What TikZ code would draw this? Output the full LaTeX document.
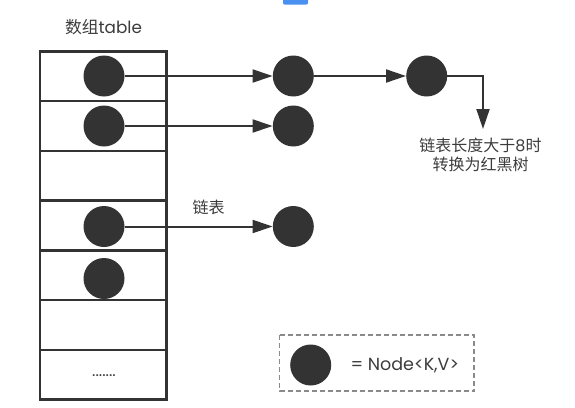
\documentclass[tikz,border=0pt]{standalone}
\usepackage{fontspec}
\setmainfont{Poppins}
\newfontfamily\cjk{Noto Sans CJK SC}
\usetikzlibrary{arrows.meta}
\definecolor{ink}{HTML}{333333}
\definecolor{txt}{HTML}{3C3C3C}
\definecolor{dashgray}{HTML}{8A8A8A}
\definecolor{tabblue}{HTML}{4A90F0}
\begin{document}
\begin{tikzpicture}[x=1pt, y=-1pt,
  entry/.style={circle, fill=ink, minimum size=41pt, inner sep=0pt},
  link/.style={line width=2pt, draw=ink, -{Triangle[length=20pt, width=13pt]}},
  cell/.style={line width=2.3pt, draw=ink},
  label/.style={text=txt, font=\fontsize{16}{19}\selectfont, align=center}]
        \useasboundingbox (0,0) rectangle (575,407);                      %
        \fill [tabblue, rounded corners=2pt] (283,-4) rectangle (308,4.7); %
        \node [label, font=\fontsize{16.8}{19}\selectfont]                 %
              (title) at (103.5,27)  {{\cjk 数组}table};                    %
        \draw [cell] (40,51.5) rectangle (166.5,399.5);                    %table
        \foreach \y in {101.2,150.9,200.6,250.4,300.1,349.8}               %
          \draw [cell] (40,\y) -- (166.5,\y);                              %rows
        \node [label] (more) at (104,376) {.......};                       %
        \node [entry] (t1) at (104,76)    {};                              %bucket 0
        \node [entry] (t2) at (104,126)   {};                              %bucket 1
        \node [entry] (t4) at (104,226.5) {};                              %bucket 3
        \node [entry] (t5) at (104,278.5) {};                              %bucket 4
        \node [entry] (n1) at (293.3,76)    {};                            %
        \node [entry] (n2) at (426.7,76)    {};                            %
        \node [entry] (n3) at (293.3,126)   {};                            %
        \node [entry] (n4) at (293.3,226.5) {};                            %
        \draw [link] (t1) -- (n1);                                         %
        \draw [link] (n1) -- (n2);                                         %
        \draw [link] (t2) -- (n3);                                         %
        \draw [link] (t4) -- (n4);                                         %
        \node [label] (chain) at (208.5,207) {\cjk 链表};                   %
        \node [label] (rbnote) at (480.5,154.5)                            %
              {{\cjk 链表长度大于}8{\cjk 时}\\{\cjk 转换为红黑树}};            %
        \coordinate (tip) at (483,129);                                    %
        \draw [link] (n2.east) -| (tip);                                   %treeify
        \draw [dashgray, line width=1.3pt, dash pattern=on 5pt off 3pt]    %
              (279.5,335) rectangle (474,391);                             %legend
        \node [entry] (key) at (310.7,365) {};                             %
        \node [label, anchor=west, font=\fontsize{17.5}{19}\selectfont]    %
              (keytext) at (347,365) {= Node<K,V>};                        %
\end{tikzpicture}
\end{document}
